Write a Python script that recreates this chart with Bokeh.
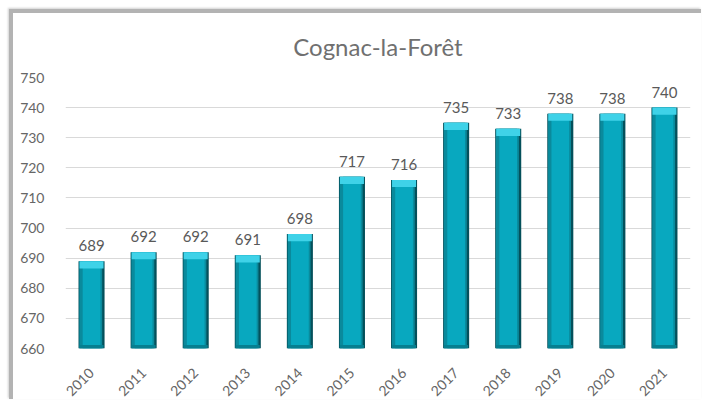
from bokeh.plotting import figure
from bokeh.embed import file_html
from bokeh.resources import INLINE
from bokeh.models import ColumnDataSource, FixedTicker, LabelSet
from bokeh.core.properties import value
from bokeh.transform import dodge
import numpy as np

years = ["2010", "2011", "2012", "2013", "2014", "2015", "2016", "2017", "2018", "2019", "2020", "2021"]
population = [689, 692, 692, 691, 698, 717, 716, 735, 733, 738, 738, 740]
y_ticks = [660, 670, 680, 690, 700, 710, 720, 730, 740, 750]

pop = np.array(population, dtype=float)
src = ColumnDataSource(data=dict(
    year=years,
    pop=pop,
    cap=pop - 2.4,
    base=np.full(len(years), 660.0),
    base_top=np.full(len(years), 661.2),
    label=[str(v) for v in population],
))

p = figure(x_range=years, y_range=(660, 750), width=692, height=390,
           output_backend="svg", toolbar_location=None,
           title="Cognac-la-Forêt",
           min_border_left=52, min_border_right=15, min_border_top=63, min_border_bottom=50)
p.styles = {"border-left": "4px solid #b3b3b3", "border-top": "4px solid #b3b3b3",
            "box-shadow": "-1px -1px 2px #d0d0d0", "margin-left": "9px", "margin-top": "9px"}

p.title.align = "center"
p.title.text_font = "Lato"
p.title.text_font_size = "24px"
p.title.text_font_style = "normal"
p.title.text_color = "#707070"
p.title.standoff = 33
p.title.offset = -18

p.outline_line_color = None
p.background_fill_color = "white"
p.border_fill_color = "white"

# bars with bevel look
p.vbar(x="year", top="pop", bottom="base", width=0.5, source=src,
       fill_color="#04505b", line_color=None)
p.vbar(x=dodge("year", -0.015, range=p.x_range), top="pop", bottom="base", width=0.44, source=src,
       fill_color="#0a8a9c", line_color=None)
p.vbar(x="year", top="pop", bottom="base", width=0.34, source=src,
       fill_color="#08a8bf", line_color=None)
p.vbar(x="year", top="pop", bottom="cap", width=0.46, source=src,
       fill_color="#3fd2e8", line_color=None)
p.vbar(x="year", top="base_top", bottom="base", width=0.46, source=src,
       fill_color="#067f90", line_color=None)

labels = LabelSet(x="year", y="pop", text="label", source=src, text_align="center",
                  text_baseline="bottom", y_offset=10, text_font=value("Lato"),
                  text_font_size=value("15px"), text_color=value("#595959"))
p.add_layout(labels)

p.yaxis.ticker = FixedTicker(ticks=y_ticks)
p.ygrid.ticker = FixedTicker(ticks=y_ticks)
p.ygrid.grid_line_color = "#d9d9d9"
p.xgrid.grid_line_color = None
for ax in (p.xaxis, p.yaxis):
    ax.axis_line_color = None
    ax.major_tick_line_color = None
    ax.minor_tick_line_color = None
    ax.major_label_text_font = "Lato"
    ax.major_label_text_font_size = "14px"
    ax.major_label_text_color = "#666666"
p.xaxis.major_label_orientation = 0.785
p.xaxis.major_label_standoff = 16
p.yaxis.major_label_standoff = 15

open("out.html", "w").write(file_html(p, INLINE))
